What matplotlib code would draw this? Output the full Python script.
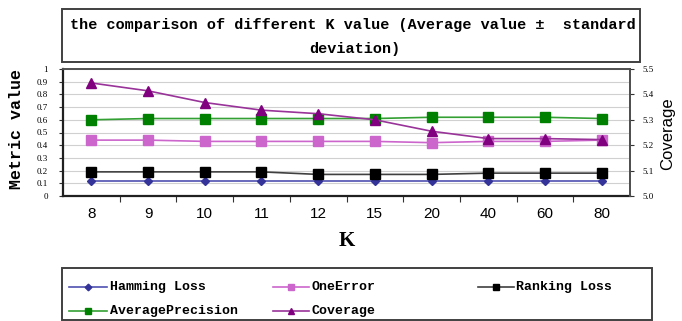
import matplotlib
matplotlib.use("Agg")
import matplotlib.pyplot as plt
from matplotlib.lines import Line2D
from matplotlib.patches import Rectangle
from matplotlib.ticker import FixedLocator, NullFormatter

# ---- data -------------------------------------------------------------
k_values = ["8", "9", "10", "11", "12", "15", "20", "40", "60", "80"]
hamming_loss = [0.12, 0.12, 0.12, 0.12, 0.12, 0.12, 0.12, 0.12, 0.12, 0.12]
one_error = [0.44, 0.44, 0.43, 0.43, 0.43, 0.43, 0.42, 0.43, 0.43, 0.44]
ranking_loss = [0.19, 0.19, 0.19, 0.19, 0.17, 0.17, 0.17, 0.18, 0.18, 0.18]
average_precision = [0.60, 0.61, 0.61, 0.61, 0.61, 0.61, 0.62, 0.62, 0.62, 0.61]
coverage = [5.445, 5.414, 5.368, 5.338, 5.324, 5.300, 5.255, 5.226, 5.226, 5.222]

left_ticks = [0, 0.1, 0.2, 0.3, 0.4, 0.5, 0.6, 0.7, 0.8, 0.9, 1]
left_tick_labels = ["0", "0.1", "0.2", "0.3", "0.4", "0.5", "0.6", "0.7", "0.8", "0.9", "1"]
right_ticks = [5.0, 5.1, 5.2, 5.3, 5.4, 5.5]
right_tick_labels = ["5.0", "5.1", "5.2", "5.3", "5.4", "5.5"]

title_lines = ["the comparison of different K value (Average value \u00b1  standard",
               "deviation)"]

# ---- styles -----------------------------------------------------------
W, H = 682, 321
MONO = "Liberation Mono"
SERIF = "Liberation Serif"

styles = [
    dict(label="Hamming Loss", data=hamming_loss, color="#5050B0", mfc="#333399", marker="D", ms=4.5),
    dict(label="OneError", data=one_error, color="#CC66CC", mfc="#CC66CC", marker="s", ms=6.5),
    dict(label="Ranking Loss", data=ranking_loss, color="#404040", mfc="#000000", marker="s", ms=6.5),
    dict(label="AveragePrecision", data=average_precision, color="#33A033", mfc="#008000", marker="s", ms=6.5),
]
cov_style = dict(label="Coverage", color="#993399", mfc="#800080", marker="^", ms=6.5)


def fx(px):
    return px / W


def fy(py):
    return 1 - py / H


fig = plt.figure(figsize=(W / 100, H / 100), dpi=100)

ax = fig.add_axes([fx(63), fy(196), (630 - 63) / W, (196 - 69) / H])
x = list(range(len(k_values)))

for s in styles:
    ax.plot(x, s["data"], color=s["color"], lw=1.2, marker=s["marker"],
            ms=s["ms"], mfc=s["mfc"], mec=s["mfc"], zorder=3)

ax.set_xlim(-0.5, len(k_values) - 0.5)
ax.set_ylim(0, 1)
ax.set_yticks(left_ticks)
ax.set_yticklabels(left_tick_labels, fontfamily=SERIF, fontsize=6.5)
ax.set_xticks(x)
ax.set_xticklabels(k_values, fontfamily="Liberation Sans", fontsize=11)
ax.tick_params(axis="x", which="major", length=0, pad=8)
ax.xaxis.set_minor_locator(FixedLocator([i + 0.5 for i in range(len(k_values) - 1)]))
ax.xaxis.set_minor_formatter(NullFormatter())
ax.tick_params(axis="x", which="minor", length=4, width=0.8, color="#333333", direction="out")
ax.tick_params(axis="y", length=3, width=0.8, direction="out", pad=8, color="#333333")
ax.grid(axis="y", color="#D0D0D0", lw=0.8, zorder=0)
ax.set_axisbelow(True)

for side in ("left", "bottom"):
    ax.spines[side].set_linewidth(1.6)
    ax.spines[side].set_color("#202020")
for side in ("top", "right"):
    ax.spines[side].set_linewidth(1.4)
    ax.spines[side].set_color("#505050")

ax2 = ax.twinx()
ax2.plot(x, coverage, color=cov_style["color"], lw=1.2, marker=cov_style["marker"],
         ms=cov_style["ms"], mfc=cov_style["mfc"], mec=cov_style["mfc"], zorder=4)
ax2.set_ylim(5.0, 5.5)
ax2.set_yticks(right_ticks)
ax2.set_yticklabels(right_tick_labels, fontfamily=SERIF, fontsize=6.5)
ax2.tick_params(axis="y", length=3, width=0.8, direction="out", pad=6, color="#333333")
ax2.spines["right"].set_linewidth(1.4)
ax2.spines["right"].set_color("#505050")
for side in ("left", "bottom", "top"):
    ax2.spines[side].set_visible(False)

# axis titles
fig.text(fx(17), fy(129), "Metric value", rotation=90, ha="center", va="center",
         fontfamily=MONO, fontweight="bold", fontsize=12)
fig.text(fx(668), fy(134), "Coverage", rotation=90, ha="center", va="center",
         fontfamily="Liberation Sans", fontsize=12)
fig.text(fx(347), fy(241), "K", ha="center", va="center",
         fontfamily=SERIF, fontweight="bold", fontsize=15)

# title box
fig.add_artist(Rectangle((fx(62), fy(62)), (640 - 62) / W, (62 - 9) / H,
                         transform=fig.transFigure, fill=False,
                         edgecolor="#404040", lw=1.4))
fig.text(fx(353), fy(25), title_lines[0], ha="center", va="center",
         fontfamily=MONO, fontweight="bold", fontsize=10.9)
fig.text(fx(355), fy(49), title_lines[1], ha="center", va="center",
         fontfamily=MONO, fontweight="bold", fontsize=10.9)

# legend box drawn by hand
fig.add_artist(Rectangle((fx(62), fy(320)), (652 - 62) / W, (320 - 268) / H,
                         transform=fig.transFigure, fill=False,
                         edgecolor="#404040", lw=1.4))
entries = [
    (styles[0], 69, 107, 110, 287),
    (styles[1], 273, 309, 312, 287),
    (styles[2], 478, 514, 516, 287),
    (styles[3], 69, 107, 110, 311),
    (cov_style, 273, 309, 312, 311),
]
for s, x0, x1, tx, ty in entries:
    fig.add_artist(Line2D([fx(x0), fx(x1)], [fy(ty), fy(ty)], transform=fig.transFigure,
                          color=s["color"], lw=1.2))
    fig.add_artist(Line2D([fx((x0 + x1) / 2)], [fy(ty)], transform=fig.transFigure,
                          marker=s["marker"], ms=s["ms"] * 0.75, mfc=s["mfc"],
                          mec=s["mfc"], lw=0))
    fig.text(fx(tx), fy(ty), s["label"], ha="left", va="center",
             fontfamily=MONO, fontweight="bold", fontsize=9.5)

fig.savefig("out.png", dpi=100)
